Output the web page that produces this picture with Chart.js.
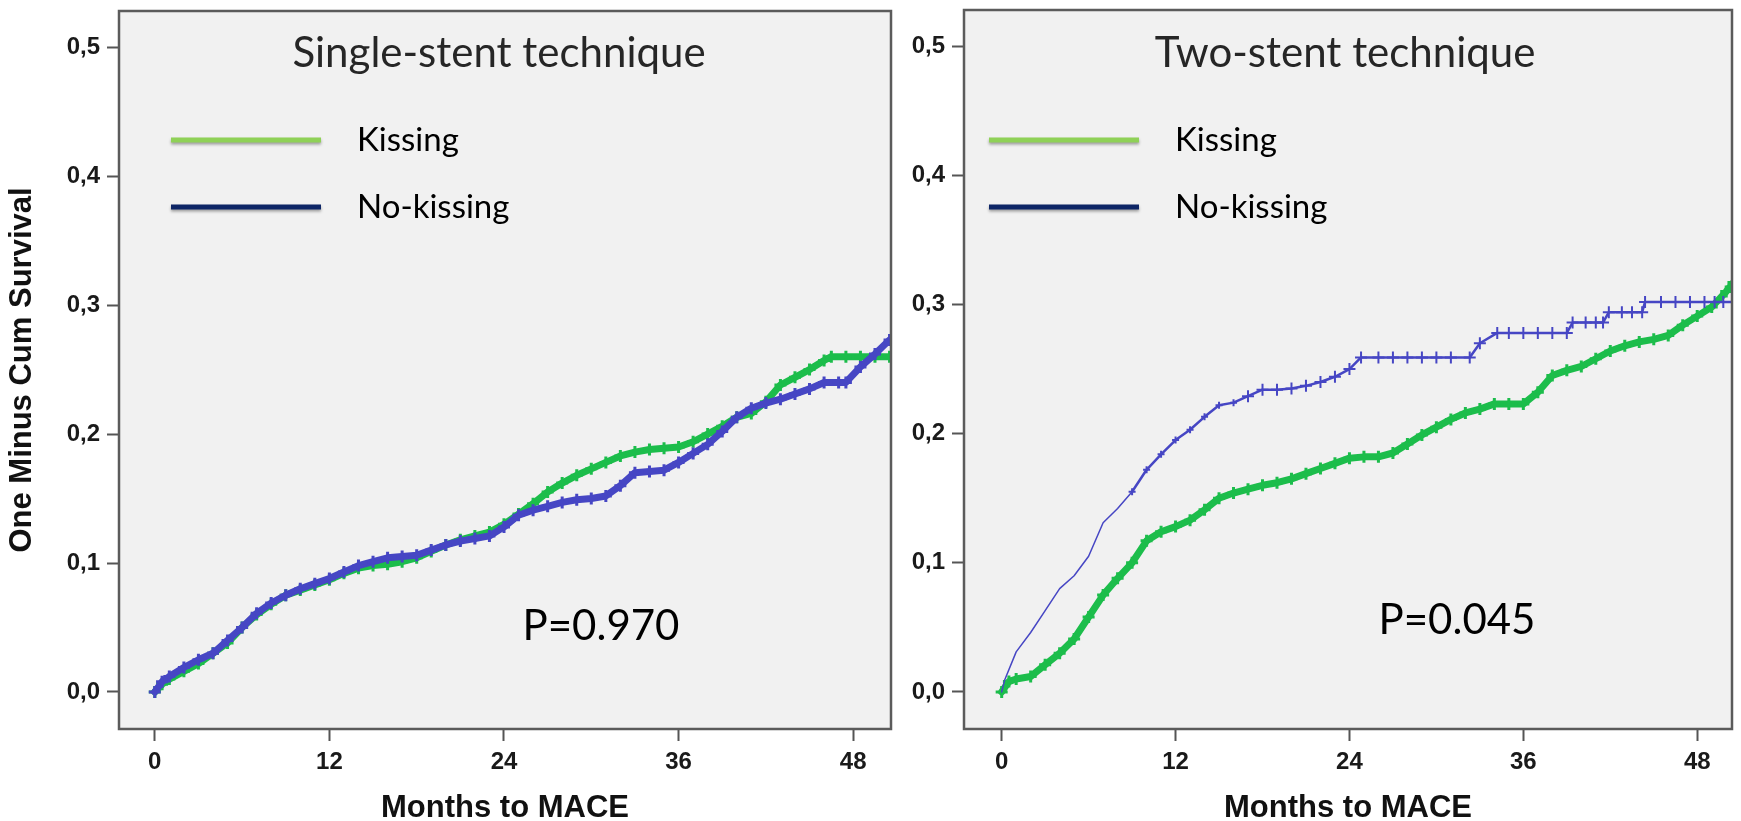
<!DOCTYPE html>
<html>
<head>
<meta charset="utf-8">
<script src="https://cdn.jsdelivr.net/npm/chart.js@4/dist/chart.umd.min.js"></script>
<style>
  html, body { margin: 0; padding: 0; background: #fff; }
  #wrap { position: relative; width: 1741px; height: 821px; overflow: hidden; }
  canvas { position: absolute; top: 0; }
</style>
</head>
<body>
<div id="wrap">
  <canvas id="single" width="900" height="821" style="left:0"></canvas>
  <canvas id="two" width="841" height="821" style="left:900px"></canvas>
</div>
<script>
// tick values and labels
const xTicks = [0, 12, 24, 36, 48];
const yTicks = [0, 0.1, 0.2, 0.3, 0.4, 0.5];
const yTickLabels = ['0,0', '0,1', '0,2', '0,3', '0,4', '0,5'];

// single-stent technique (months, 1 - cum survival)
const singleKissT = [0, 0.5, 1, 2, 3, 4, 5, 6, 7, 8, 9, 10, 11, 12, 13, 14, 15, 16, 17, 18, 19, 20, 21, 22, 23, 24, 25,
  26, 27, 28, 29, 30, 31, 32, 33, 34, 35, 36, 37, 38, 39, 40, 41, 42, 43, 44, 45, 46, 46.5, 47.5, 48.5, 49.5, 50.5];
const singleKissV = [0, .006, .010, .016, .022, .030, .038, .050, .060, .068, .075, .079, .083, .087, .092, .096, .098, .099, .101, .104, .109, .114, .118, .121, .124, .130, .138,
  .146, .155, .162, .168, .173, .178, .183, .186, .188, .189, .190, .194, .200, .206, .213, .216, .225, .238, .244, .250, .257, .260, .260, .260, .260, .260];

const singleNoKissT = [0, 0.5, 1, 2, 3, 4, 5, 6, 7, 8, 9, 10, 11, 12, 13, 14, 15, 16, 17, 18, 19, 20, 21, 22, 23, 24, 25,
  26, 27, 28, 29, 30, 31, 32, 33, 34, 35, 36, 37, 38, 39, 40, 41, 42, 43, 44, 45, 46, 47, 47.5, 48.5, 49.5, 50.5];
const singleNoKissV = [0, .008, .012, .019, .025, .030, .040, .050, .061, .069, .075, .080, .084, .088, .093, .098, .101, .104, .105, .106, .110, .114, .117, .119, .121, .128, .137,
  .141, .144, .147, .149, .150, .152, .160, .170, .171, .172, .178, .185, .192, .202, .213, .220, .224, .227, .231, .235, .240, .240, .240, .252, .262, .273];

// two-stent technique
const twoKissT = [0, 0.5, 1, 2, 3, 4, 5, 6, 7, 8, 9, 10, 11, 12, 13, 14, 15, 16, 17, 18, 19, 20, 21, 22, 23, 24, 25,
  26, 27, 28, 29, 30, 31, 32, 33, 34, 35, 36, 37, 38, 39, 40, 41, 42, 43, 44, 45, 46, 47, 48, 49, 50, 50.5];
const twoKissV = [0, .008, .010, .012, .021, .030, .041, .058, .075, .088, .100, .117, .124, .128, .133, .141, .150, .154, .157, .160, .162, .165, .169, .173, .177, .181, .182,
  .182, .185, .192, .199, .205, .211, .216, .219, .223, .223, .223, .232, .245, .249, .252, .258, .264, .268, .271, .273, .276, .284, .291, .298, .310, .317];

const twoNoKissT = [0, 0.2, 1, 2, 3, 4, 5, 6, 7, 8, 9, 10, 11, 12, 13, 14, 15, 16, 17, 18, 19, 20, 21, 22, 23, 24, 24.8,
  26, 27, 28, 29, 30, 31, 32.3, 33, 34.2, 35, 36, 37, 38, 39, 39.4, 40.3, 41, 41.5, 41.9, 42.8, 43.5, 44.2, 44.4,
  45.5, 46.5, 47.5, 48.5, 49.2, 49.8, 50.4];
const twoNoKissV = [0, .009, .031, .046, .063, .080, .090, .105, .131, .142, .155, .172, .184, .195, .203, .213, .222, .224, .229, .234, .234, .235, .237, .240, .244, .250, .259,
  .259, .259, .259, .259, .259, .259, .259, .270, .278, .278, .278, .278, .278, .278, .286, .286, .286, .286, .294, .294, .294, .294, .302,
  .302, .302, .302, .302, .302, .302, .302];

const GREEN = '#1cbd4b';
const BLUE = '#4646c4';
const pts = (t, v) => t.map((x, i) => ({ x: x, y: v[i] }));

// background box, inner title, legend and p-value
const panelPlugin = {
  id: 'panel',
  beforeDatasetsDraw(chart, args, o) {
    const a = chart.chartArea;
    const ctx = chart.ctx;
    ctx.save();
    ctx.fillStyle = '#f1f1f1';
    ctx.fillRect(a.left, a.top, a.right - a.left, a.bottom - a.top);

    ctx.fillStyle = '#262626';
    ctx.textAlign = 'center';
    ctx.textBaseline = 'alphabetic';
    ctx.font = '42px Lato';
    ctx.fillText(o.title, (a.left + a.right) / 2 + o.titleDx, 67);

    o.legend.forEach((item, i) => {
      const y = 140 + i * 67;
      ctx.save();
      ctx.shadowColor = 'rgba(0,0,0,0.35)';
      ctx.shadowOffsetY = 2;
      ctx.shadowBlur = 3;
      ctx.strokeStyle = item.color;
      ctx.lineWidth = 5;
      ctx.beginPath();
      ctx.moveTo(a.left + o.legendX, y);
      ctx.lineTo(a.left + o.legendX + 150, y);
      ctx.stroke();
      ctx.restore();
      ctx.fillStyle = '#000';
      ctx.textAlign = 'left';
      ctx.font = '33px Lato';
      ctx.fillText(item.text, a.left + o.legendX + 186, y + 11);
    });

    ctx.fillStyle = '#000';
    ctx.textAlign = 'center';
    ctx.font = '42px Lato';
    ctx.fillText(o.pText, o.pX, o.pY);
    ctx.restore();
  },
  afterDatasetsDraw(chart) {
    const a = chart.chartArea;
    const ctx = chart.ctx;
    ctx.save();
    ctx.strokeStyle = '#5b5b5b';
    ctx.lineWidth = 2.5;
    ctx.strokeRect(a.left, a.top, a.right - a.left, a.bottom - a.top);
    ctx.restore();
  }
};

const tickFont = { family: 'Liberation Sans, Arial, sans-serif', weight: 'bold', size: 24 };
const titleFont = { family: 'Liberation Sans, Arial, sans-serif', weight: 'bold', size: 31, lineHeight: 0.8 };

// dense KM curves drawn as a thick band with censor crosses
function curve(label, data, color, extra) {
  return Object.assign({
    label: label,
    data: data,
    borderColor: color,
    backgroundColor: color,
    borderWidth: 7,
    borderJoinStyle: 'round',
    borderCapStyle: 'round',
    fill: false,
    pointStyle: 'cross',
    pointRadius: 6,
    pointBorderWidth: 3,
    pointBorderColor: color
  }, extra || {});
}

function makeChart(id, cfg) {
  return new Chart(document.getElementById(id), {
    type: 'line',
    data: { datasets: cfg.datasets },
    options: {
      responsive: false,
      animation: false,
      events: [],
      layout: { padding: cfg.padding },
      plugins: {
        legend: { display: false },
        tooltip: { enabled: false },
        panel: cfg.panel
      },
      scales: {
        x: {
          type: 'linear',
          min: cfg.xMin,
          max: cfg.xMax,
          afterBuildTicks: s => { s.ticks = xTicks.map(v => ({ value: v })); },
          afterFit: s => { s.height = 92; s.paddingLeft = 0; s.paddingRight = 0; },
          grid: { drawOnChartArea: false, drawTicks: true, tickLength: 12, tickColor: '#555', tickWidth: 2 },
          border: { display: false },
          ticks: { autoSkip: false, maxRotation: 0, padding: 7, color: '#1a1a1a', font: tickFont },
          title: { display: true, text: 'Months to MACE', color: '#111', font: titleFont, padding: { top: 0, bottom: 0 } }
        },
        y: {
          type: 'linear',
          min: -0.0287,
          max: 0.528,
          afterBuildTicks: s => { s.ticks = yTicks.map(v => ({ value: v })); },
          afterFit: s => { s.width = cfg.yWidth; s.paddingTop = 0; s.paddingBottom = 0; },
          grid: { drawOnChartArea: false, drawTicks: true, tickLength: 12, tickColor: '#555', tickWidth: 2 },
          border: { display: false },
          ticks: { autoSkip: false, padding: 7, color: '#1a1a1a', font: tickFont, callback: (v, i) => yTickLabels[i] },
          title: { display: cfg.yTitle, text: 'One Minus Cum Survival', color: '#111', font: titleFont, padding: { top: 10, bottom: 0 } }
        }
      }
    },
    plugins: [panelPlugin]
  });
}

const legendItems = [
  { text: 'Kissing', color: '#8fd157' },
  { text: 'No-kissing', color: '#0d2566' }
];

makeChart('single', {
  xMin: -2.46, xMax: 50.6, yWidth: 119, yTitle: true,
  padding: { top: 11, right: 5, left: 0, bottom: 0 },
  panel: { title: 'Single-stent technique', titleDx: -6, legend: legendItems, legendX: 52, pText: 'P=0.970', pX: 601, pY: 640 },
  datasets: [
    curve('No-kissing', pts(singleNoKissT, singleNoKissV), BLUE),
    curve('Kissing', pts(singleKissT, singleKissV), GREEN)
  ]
});

makeChart('two', {
  xMin: -2.6, xMax: 50.4, yWidth: 64, yTitle: false,
  padding: { top: 10, right: 4, left: 0, bottom: 0 },
  panel: { title: 'Two-stent technique', titleDx: -3, legend: legendItems, legendX: 25, pText: 'P=0.045', pX: 557, pY: 634 },
  datasets: [
    curve('No-kissing', pts(twoNoKissT, twoNoKissV), BLUE, {
      borderWidth: 2,
      segment: { borderWidth: c => (c.p0.parsed.x < 9 ? 1.5 : 2.5) },
      pointBorderWidth: 2,
      pointRadius: c => {
        const x = c.raw ? c.raw.x : 0;
        return x < 9 ? 0 : (x < 17 ? 3.5 : 6);
      }
    }),
    curve('Kissing', pts(twoKissT, twoKissV), GREEN)
  ]
});
</script>
</body>
</html>
